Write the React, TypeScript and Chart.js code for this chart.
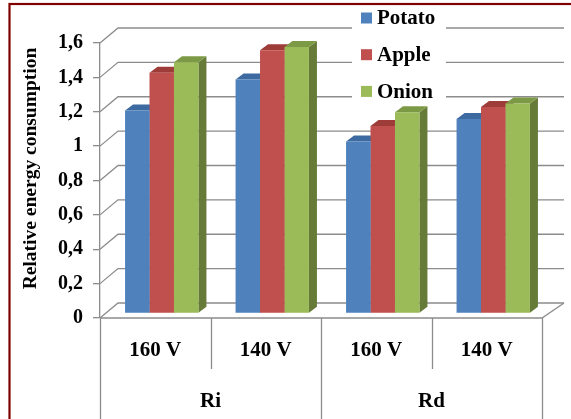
import { useEffect, useRef } from "react";
import { Chart, registerables } from "chart.js";

Chart.register(...registerables);

// Voltage settings on the category axis, grouped by method
const categories = ["160 V", "140 V", "160 V", "140 V"];
const groupLabels = ["Ri", "Rd"];
const groupSpans = [2, 2];

// Relative energy consumption per product
const potato = [1.18, 1.36, 1.0, 1.13];
const apple = [1.4, 1.53, 1.09, 1.2];
const onion = [1.46, 1.55, 1.17, 1.22];

const seriesNames = ["Potato", "Apple", "Onion"];
const seriesData = [potato, apple, onion];

const yMin = 0;
const yMax = 1.6;
const yStep = 0.2;
const yTitle = "Relative energy consumption";

// Face colours: front, right side, top
const palette = [
  { front: "#4F81BD", side: "#375C89", top: "#3D6AA1" },
  { front: "#C0504D", side: "#8C3835", top: "#9E3C39" },
  { front: "#9BBB59", side: "#667B38", top: "#7C9A45" },
];

const FONT = "'Liberation Serif', 'Times New Roman', serif";
const GRID = "#8C8C8C";

// Perspective of the box: back wall offset and bar extrusion
const wall = { dxLeft: 18, dxRight: 22, dy: -15 };
const barShift = { dx: 6.5, dy: -4.7 };
const barDepth = { dx: 8, dy: -6 };

const formatTick = (v: number) =>
  (Math.round(v * 10) / 10).toString().replace(".", ",");

const boxPlugin = {
  id: "box3d",
  beforeDatasetsDraw(chart: any) {
    const ctx: CanvasRenderingContext2D = chart.ctx;
    const { left, right, bottom } = chart.chartArea;
    const yScale = chart.scales.y;
    const xScale = chart.scales.x;

    ctx.save();
    ctx.strokeStyle = GRID;
    ctx.lineWidth = 1.3;

    // back wall gridlines with their slanted links to the front axis
    for (const t of yScale.ticks) {
      const y = yScale.getPixelForValue(t.value);
      ctx.beginPath();
      ctx.moveTo(left, y);
      ctx.lineTo(left + wall.dxLeft, y + wall.dy);
      ctx.lineTo(right + wall.dxRight, y + wall.dy);
      ctx.stroke();
    }

    // floor front edge and right side edge
    ctx.beginPath();
    ctx.moveTo(left, bottom);
    ctx.lineTo(right, bottom);
    ctx.lineTo(right + wall.dxRight, bottom + wall.dy);
    ctx.stroke();

    // category separators below the floor
    const n = categories.length;
    const slot = (right - left) / n;
    let acc = 0;
    const groupBounds = new Set<number>([0]);
    for (const s of groupSpans) {
      acc += s;
      groupBounds.add(acc);
    }
    for (let i = 0; i <= n; i++) {
      const x = Math.round(left + i * slot) + 0.5;
      const long = groupBounds.has(i);
      ctx.beginPath();
      ctx.moveTo(x, bottom);
      ctx.lineTo(x, long ? chart.height + 2 : bottom + 51);
      ctx.stroke();
    }

    // group labels
    ctx.fillStyle = "#000";
    ctx.font = `bold 21px ${FONT}`;
    ctx.textAlign = "center";
    ctx.textBaseline = "middle";
    let start = 0;
    groupLabels.forEach((g, gi) => {
      const span = groupSpans[gi];
      const x0 = xScale.getPixelForValue(start) - slot / 2;
      const x1 = xScale.getPixelForValue(start + span - 1) + slot / 2;
      ctx.fillText(g, (x0 + x1) / 2, 402);
      start += span;
    });
    ctx.restore();

    // bars sit a little behind the front plane; sides and tops go first,
    // the fronts drawn by Chart.js then cover whatever they hide
    ctx.save();
    ctx.translate(barShift.dx, barShift.dy);
    chart.getSortedVisibleDatasetMetas().forEach((meta: any) => {
      const colors = palette[meta.index];
      meta.data.forEach((bar: any) => {
        const { x, y, base, width } = bar.getProps(["x", "y", "base", "width"], true);
        const l = x - width / 2;
        const r = x + width / 2;
        ctx.fillStyle = colors.side;
        ctx.beginPath();
        ctx.moveTo(r, y);
        ctx.lineTo(r + barDepth.dx, y + barDepth.dy);
        ctx.lineTo(r + barDepth.dx, base + barDepth.dy);
        ctx.lineTo(r, base);
        ctx.closePath();
        ctx.fill();
        ctx.fillStyle = colors.top;
        ctx.beginPath();
        ctx.moveTo(l, y);
        ctx.lineTo(l + barDepth.dx, y + barDepth.dy);
        ctx.lineTo(r + barDepth.dx, y + barDepth.dy);
        ctx.lineTo(r, y);
        ctx.closePath();
        ctx.fill();
      });
    });
  },
  afterDatasetsDraw(chart: any) {
    chart.ctx.restore();
  },
  afterDraw(chart: any) {
    const ctx: CanvasRenderingContext2D = chart.ctx;
    const yScale = chart.scales.y;
    ctx.save();

    // axis title
    const midY = (yScale.top + yScale.bottom) / 2 - 12;
    ctx.translate(31, midY);
    ctx.rotate(-Math.PI / 2);
    ctx.fillStyle = "#000";
    ctx.font = `bold 19.5px ${FONT}`;
    ctx.textAlign = "center";
    ctx.textBaseline = "middle";
    ctx.fillText(yTitle, 0, 0);
    ctx.setTransform(1, 0, 0, 1, 0, 0);

    // legend
    ctx.fillStyle = "#fff";
    ctx.fillRect(352, 7, 94, 97);
    ctx.font = `bold 21px ${FONT}`;
    ctx.textAlign = "left";
    seriesNames.forEach((name, i) => {
      const cy = 18 + i * 36.7;
      ctx.fillStyle = palette[i].front;
      ctx.fillRect(361, cy - 5.5, 11, 11);
      ctx.fillStyle = "#000";
      ctx.fillText(name, 377, cy + 1);
    });

    // frame
    ctx.strokeStyle = "#800000";
    ctx.lineWidth = 2.2;
    ctx.strokeRect(9.5, 4, 700, 600);
    ctx.restore();
  },
};

export default function App() {
  const canvasRef = useRef<HTMLCanvasElement | null>(null);

  useEffect(() => {
    document.body.style.margin = "0";
    const canvas = canvasRef.current;
    if (!canvas) return;
    const chart = new Chart(canvas, {
      type: "bar",
      data: {
        labels: categories,
        datasets: seriesNames.map((name, i) => ({
          label: name,
          data: seriesData[i],
          backgroundColor: palette[i].front,
          borderWidth: 0,
          barPercentage: 1,
          categoryPercentage: 0.664,
        })),
      },
      options: {
        responsive: false,
        animation: false,
        devicePixelRatio: 1,
        layout: { padding: { left: 10, top: 43, right: 29, bottom: 0 } },
        plugins: {
          legend: { display: false },
          tooltip: { enabled: false },
        },
        scales: {
          x: {
            grid: { display: false, drawTicks: false },
            border: { display: false },
            ticks: {
              color: "#000",
              padding: 20,
              font: { family: FONT, size: 21, weight: "bold" },
            },
            afterFit: (s: any) => {
              s.height = 101;
            },
          },
          y: {
            min: yMin,
            max: yMax,
            grid: { drawOnChartArea: false, tickLength: 7, color: GRID, lineWidth: 1.3 },
            border: { color: GRID, width: 1.3 },
            ticks: {
              stepSize: yStep,
              color: "#000",
              padding: 10,
              font: { family: FONT, size: 20, weight: "bold" },
              callback: (v: any) => formatTick(Number(v)),
            },
            afterFit: (s: any) => {
              s.width = 90;
            },
          },
        },
      },
      plugins: [boxPlugin],
    });
    return () => chart.destroy();
  }, []);

  return (
    <div style={{ width: 571, height: 419, background: "#fff", overflow: "hidden" }}>
      <canvas ref={canvasRef} width={571} height={419} />
    </div>
  );
}
